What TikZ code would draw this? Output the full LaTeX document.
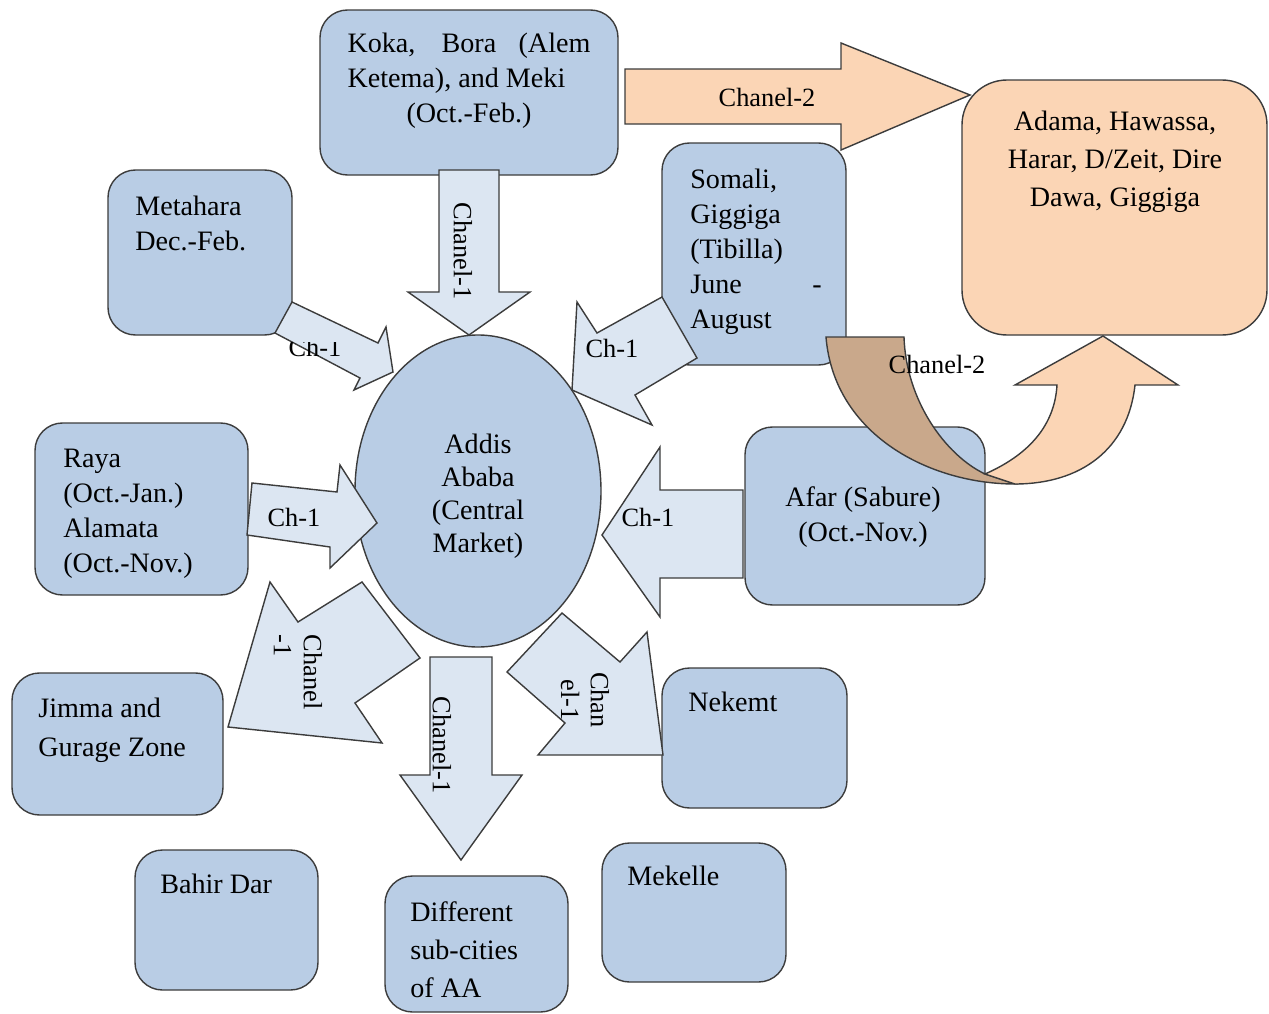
\documentclass[tikz,border=0pt]{standalone}
\usepackage{fontspec}
\setmainfont{Liberation Serif}
\usetikzlibrary{shapes.geometric}
\definecolor{boxblue}{HTML}{B9CDE5}
\definecolor{arrowblue}{HTML}{DCE6F2}
\definecolor{peach}{HTML}{FBD5B5}
\definecolor{tan}{HTML}{C9A88B}
\definecolor{edgegray}{HTML}{3C3C3C}
\begin{document}
\begin{tikzpicture}[x=0.02cm,y=-0.02cm,
  box/.style={draw=edgegray, fill=boxblue, line width=0.8pt, rounded corners=0.55cm, inner sep=0pt, outer sep=0pt},
  txt/.style={inner sep=0pt, font=\fontsize{16}{19.9}\selectfont, align=left, anchor=north west},
  ctxt/.style={inner sep=0pt, font=\fontsize{16}{19.9}\selectfont, align=center, anchor=north},
  blk/.style={draw=edgegray, fill=arrowblue, line width=0.8pt, line join=miter},
  lbl/.style={inner sep=0pt, font=\fontsize{15}{17}\selectfont},
  rlbl/.style={lbl, rotate=-90}
]
\useasboundingbox (0,0) rectangle (1269,1014);

% boxes
\node[box, minimum width=298*0.02cm, minimum height=165*0.02cm] (koka) at (469,92.5) {};
\node[box, minimum width=184*0.02cm, minimum height=165*0.02cm] (meta) at (200,252.5) {};
\node[box, minimum width=184*0.02cm, minimum height=222*0.02cm] (somali) at (754,254) {};
\node[box, fill=peach, rounded corners=0.9cm, minimum width=305*0.02cm, minimum height=255*0.02cm] (adama) at (1114.5,207.5) {};
\node[box, minimum width=213*0.02cm, minimum height=172*0.02cm] (raya) at (141.5,509) {};
\node[box, minimum width=240*0.02cm, minimum height=178*0.02cm] (afar) at (865,516) {};
\node[box, minimum width=211*0.02cm, minimum height=142*0.02cm] (jimma) at (117.5,744) {};
\node[box, minimum width=185*0.02cm, minimum height=140*0.02cm] (nekemt) at (754.5,738) {};
\node[box, minimum width=183*0.02cm, minimum height=140*0.02cm] (bahir) at (226.5,920) {};
\node[box, minimum width=183*0.02cm, minimum height=136*0.02cm] (diff) at (476.5,944) {};
\node[box, minimum width=184*0.02cm, minimum height=139*0.02cm] (mekelle) at (694,912.5) {};
\node[draw=edgegray, fill=boxblue, line width=0.8pt, ellipse, inner sep=0pt, outer sep=0pt,
      minimum width=246*0.02cm, minimum height=312*0.02cm] (addis) at (478,491) {};

% block arrows
\draw[blk] (439,170) -- (499,170) -- (499,292) -- (530,292) -- (469,335) -- (408,292) -- (439,292) -- cycle;
\draw[blk] (292,302) -- (378,343) -- (386,327) -- (393,372) -- (354,390) -- (360,378) -- (275,333) -- cycle;
\draw[blk] (662,297) -- (697,358) -- (635,395) -- (652,425) -- (572,390) -- (577,302) -- (597,333) -- cycle;
\draw[blk] (252,483) -- (337,492) -- (340,465) -- (377,523) -- (330,568) -- (330,547) -- (247,535) -- cycle;
\draw[blk] (743,490) -- (660,490) -- (660,447) -- (602,535) -- (660,617) -- (660,578) -- (743,578) -- cycle;
\draw[blk] (430,657) -- (492,657) -- (492,775) -- (522,775) -- (461,860) -- (400,775) -- (430,775) -- cycle;
\draw[blk] (362,582) -- (420,658) -- (355,703) -- (382,743) -- (228,727) -- (270,582) -- (298,622) -- cycle;
\draw[blk] (562,613) -- (620,662) -- (647,632) -- (663,755) -- (538,755) -- (565,723) -- (507,672) -- cycle;
\draw[blk, fill=peach] (625,69) -- (841,69) -- (841,43) -- (970,95) -- (841,150) -- (841,124) -- (625,124) -- cycle;

% curved arrow
\draw[blk, fill=tan] (826,337) .. controls (834,435) and (930,484) .. (1015,484) -- (985,474)
   .. controls (945,455) and (906,400) .. (904,337) -- cycle;
\draw[blk, fill=peach] (985,474) .. controls (1035,452) and (1055,420) .. (1057,385) -- (1015,385) -- (1103,336)
   -- (1178,385) -- (1135,385) .. controls (1128,450) and (1080,484) .. (1015,484) -- cycle;

% box texts
\node[ctxt] (tkoka) at (469,33) {\makebox[4.86cm][s]{Koka, Bora (Alem}\\\makebox[4.86cm][l]{Ketema), and Meki}\\(Oct.-Feb.)};
\node[txt] (tmeta) at (135,196) {Metahara\\Dec.-Feb.};
\node[txt] (tsomali) at (690,169) {Somali,\\Giggiga\\(Tibilla)\\\makebox[2.44cm][l]{June}-\\August};
\node[ctxt, font=\fontsize{16}{21.6}\selectfont] (tadama) at (1115,111) {Adama, Hawassa,\\Harar, D/Zeit, Dire\\Dawa, Giggiga};
\node[ctxt, font=\fontsize{16}{18.8}\selectfont] (taddis) at (478,434) {Addis\\Ababa\\(Central\\Market)};
\node[txt] (traya) at (63,449) {Raya\\(Oct.-Jan.)\\Alamata\\(Oct.-Nov.)};
\node[ctxt] (tafar) at (863,486) {Afar (Sabure)\\(Oct.-Nov.)};
\node[txt, font=\fontsize{16}{22.2}\selectfont] (tjimma) at (38,698) {Jimma and\\Gurage Zone};
\node[txt] (tnekemt) at (688,692) {Nekemt};
\node[txt] (tbahir) at (160,874) {Bahir Dar};
\node[txt, font=\fontsize{16}{21.6}\selectfont] (tdiff) at (410,901) {Different\\sub-cities\\of AA};
\node[txt] (tmekelle) at (627,866) {Mekelle};

% arrow labels
\begin{scope}
  \clip (280,342) rectangle (350,362);
  \node[lbl] (lm) at (315,347) {Ch-1};
\end{scope}
\node[lbl] (l1) at (612,348) {Ch-1};
\node[lbl] (l2) at (294,517) {Ch-1};
\node[lbl] (l3) at (648,517) {Ch-1};
\node[lbl] (l4) at (767,97) {Chanel-2};
\node[lbl] (l5) at (937,364) {Chanel-2};
\node[rlbl] (l6) at (463,251) {Chanel-1};
\node[rlbl] (l7) at (442,745) {Chanel-1};
\node[rlbl, align=left] (l8) at (298,672) {Chanel\\-1};
\node[rlbl, align=center] (l9) at (585,700) {Chan\\el-1};
\end{tikzpicture}
\end{document}
